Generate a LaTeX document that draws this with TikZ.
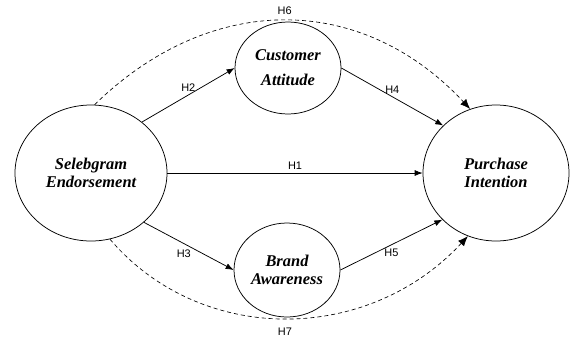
\documentclass[tikz,border=0pt]{standalone}
\usepackage{fontspec}
\setmainfont{Liberation Serif}
\newfontfamily\hypfont{Liberation Sans}
\usetikzlibrary{shapes.geometric,arrows.meta}

\begin{document}
\begin{tikzpicture}[x=1bp,y=-1bp,line width=0.75pt,
  construct/.style={draw,ellipse,inner sep=0pt,align=center,
    font=\fontsize{16.5}{18}\selectfont\bfseries\itshape},
  hyp/.style={-{Latex[length=8bp,width=6bp]}},
  indirect/.style={-{Latex[length=10bp,width=8bp]},dash pattern=on 4bp off 3bp,line width=0.65pt},
  hlabel/.style={font=\hypfont\fontsize{11}{12}\selectfont}]
\useasboundingbox (0,0) rectangle (574,345);
\node[construct,minimum width=152bp,minimum height=136bp] (sel) at (91,173) {Selebgram\\Endorsement};
\node[construct,minimum width=106bp,minimum height=92bp] (ca) at (288,68) {Customer\\[7bp]Attitude};
\node[construct,minimum width=106bp,minimum height=94bp] (ba) at (287,270) {Brand\\Awareness};
\node[construct,minimum width=146bp,minimum height=136bp] (pi) at (496,173) {Purchase\\Intention};
\draw[hyp] (sel.east) -- node[hlabel,above] (h1) {H1} (pi.west);
\draw[hyp] (sel.45) -- node[hlabel,above] (h2) {H2} (ca.west);
\draw[hyp] (sel.317) -- node[hlabel,below,xshift=-5bp] (h3) {H3} (ba.west);
\draw[hyp] (ca.east) -- node[hlabel,above] (h4) {H4} (pi.138);
\draw[hyp] (ba.east) -- node[hlabel,below] (h5) {H5} (pi.221);
\draw[indirect] (sel.87) .. controls (210,-8) and (361,-8) .. node[hlabel,above=2bp] (h6) {H6} (pi.112);
\draw[indirect] (sel.286) .. controls (200,345) and (367,345) .. node[hlabel,below=6bp] (h7) {H7} (pi.246);
\end{tikzpicture}
\end{document}
